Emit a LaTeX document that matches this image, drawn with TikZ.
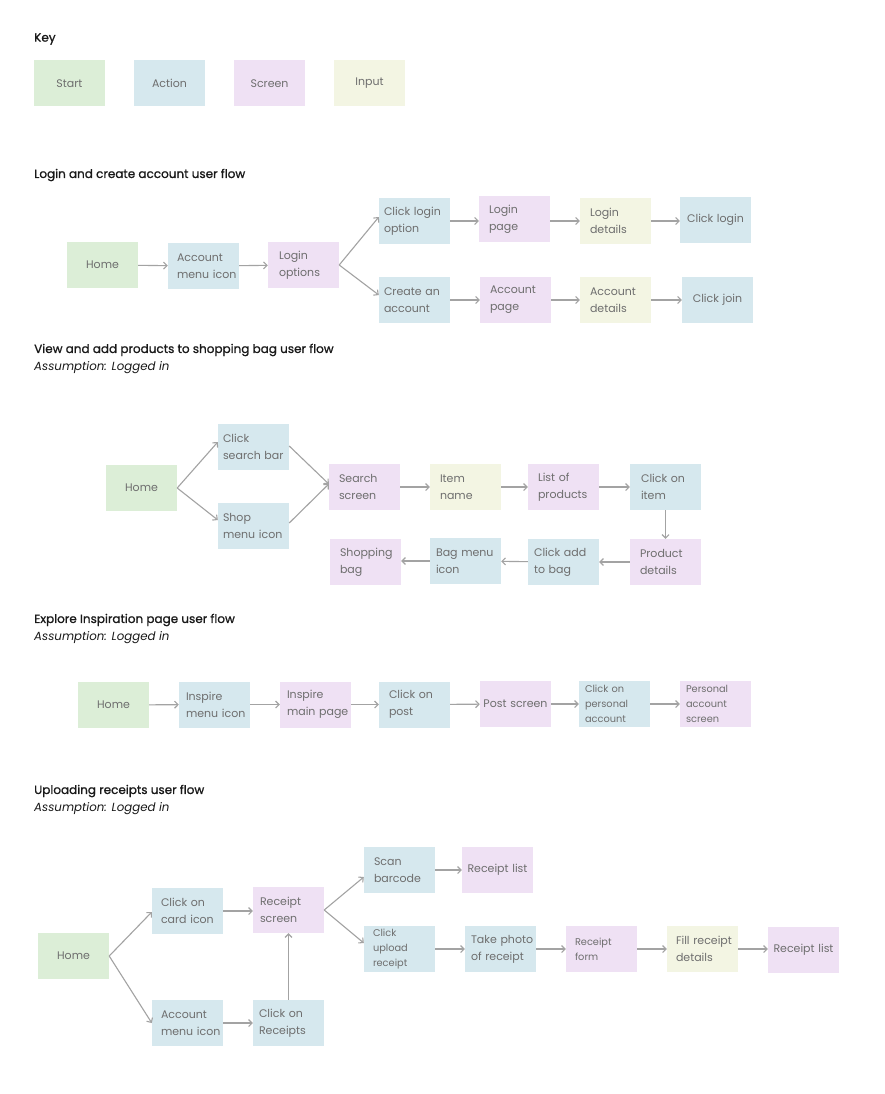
\documentclass[tikz,border=0pt]{standalone}
\usepackage{fontspec}
\setmainfont{Poppins}
\newfontfamily\headfont[FakeBold=1]{Poppins}
\usetikzlibrary{arrows.meta, positioning}
\definecolor{startgreen}{HTML}{DCEED7}
\definecolor{actionblue}{HTML}{D6E8EE}
\definecolor{screenpurple}{HTML}{EFE1F4}
\definecolor{inputyellow}{HTML}{F3F5E3}
\definecolor{labelgray}{HTML}{6E6E6E}
\definecolor{linegray}{HTML}{A3A3A3}

\begin{document}
\begin{tikzpicture}[x=1pt, y=-1pt,
    box/.style={rectangle, minimum width=71pt, minimum height=46pt,
        text width=71pt, inner xsep=0pt, inner ysep=0pt, align=left,
        text=labelgray, font=\fontsize{11}{17}\selectfont,
        execute at begin node={\leftskip=10pt}},
    textinset/.style={execute at begin node={\leftskip=#1pt}},
    oneline/.style={align=center,
        execute at begin node={\leftskip=0pt plus 1fil\rightskip=0pt plus 1fil}},
    startbox/.style={box, fill=startgreen},
    actionbox/.style={box, fill=actionblue},
    screenbox/.style={box, fill=screenpurple},
    inputbox/.style={box, fill=inputyellow},
    small/.style={font=\fontsize{9.8}{15}\selectfont},
    heading/.style={anchor=west, inner sep=0pt, text=black!90,
        font=\headfont\fontsize{12}{14}\selectfont},
    note/.style={anchor=west, inner sep=0pt, text=black!90,
        font=\itshape\fontsize{11.8}{14}\selectfont},
    flow/.style={draw=linegray, line width=1.1pt,
        -{Straight Barb[length=3.5pt, width=7pt]}}]

    \useasboundingbox[fill=white] (0,0) rectangle (884,1094);

    % key
    \node[heading] (keytitle) at (34,39) {Key};
    \node[startbox, oneline]  (keystart)  at (69.5,83.5)  {Start};
    \node[actionbox, oneline] (keyaction) at (169.5,83.5) {Action};
    \node[screenbox, oneline] (keyscreen) at (269.5,83.5) {Screen};
    \node[inputbox, oneline]  (keyinput)  at (369.5,83.5) {Input};

    % login and create account
    \node[heading] (t1) at (34,175) {Login and create account user flow};
    \node[startbox, oneline] (a-home) at (102.5,265) {Home};
    \node[actionbox, textinset=9]  (a-acc)    at (203.5,266) {Account\\menu icon};
    \node[screenbox, textinset=11] (a-opt)    at (303.5,265) {Login\\options};
    \node[actionbox, textinset=5]  (a-clogin) at (414.5,221) {Click login\\option};
    \node[actionbox, textinset=5]  (a-create) at (414.5,300) {Create an\\account};
    \node[screenbox] (a-lpage) at (514.5,219) {Login\\page};
    \node[inputbox]  (a-ldet)  at (615.5,221) {Login\\details};
    \node[actionbox, oneline] (a-login) at (715.5,220) {Click login};
    \node[screenbox] (a-apage) at (515.5,300) {Account\\page};
    \node[inputbox]  (a-adet)  at (615.5,300) {Account\\details};
    \node[actionbox, oneline] (a-join) at (717.5,300) {Click join};

    \draw[flow] (a-home) -- (a-acc);
    \draw[flow] (a-acc) -- (a-opt);
    \draw[flow] (a-opt.east) -- ([yshift=4pt]a-clogin.west);
    \draw[flow] (a-opt.east) -- ([yshift=5pt]a-create.west);
    \draw[flow] (a-clogin) -- (a-lpage.west |- a-clogin);
    \draw[flow] (a-lpage.east |- a-ldet) -- (a-ldet);
    \draw[flow] (a-ldet) -- (a-login.west |- a-ldet);
    \draw[flow] (a-create) -- (a-apage);
    \draw[flow] (a-apage) -- (a-adet);
    \draw[flow] (a-adet) -- (a-join);

    % shopping bag
    \node[heading] (t2) at (34,350) {View and add products to shopping bag user flow};
    \node[note] (n2) at (34,368) {Assumption: Logged in};
    \node[startbox, oneline] (b-home) at (141.5,488) {Home};
    \node[actionbox, textinset=5] (b-search) at (253.5,447) {Click\\search bar};
    \node[actionbox, textinset=5] (b-shop)   at (253.5,526) {Shop\\menu icon};
    \node[screenbox] (b-sscreen) at (364.5,487) {Search\\screen};
    \node[inputbox]  (b-item)    at (465.5,487) {Item\\name};
    \node[screenbox] (b-list)    at (563.5,487) {List of\\products};
    \node[actionbox, textinset=11] (b-click) at (665.5,487) {Click on\\item};
    \node[screenbox] (b-detail)  at (665.5,562) {Product\\details};
    \node[actionbox, textinset=6] (b-add)     at (563.5,562) {Click add\\to bag};
    \node[actionbox, textinset=6] (b-bagicon) at (465.5,561) {Bag menu\\icon};
    \node[screenbox] (b-bag)     at (365.5,562) {Shopping\\bag};

    \draw[flow] (b-home.east) -- ([yshift=5pt]b-search.west);
    \draw[flow] (b-home.east) -- ([yshift=6pt]b-shop.west);
    \draw[flow] ([yshift=1pt]b-search.east) -- ([yshift=3pt]b-sscreen.west);
    \draw[flow] ([yshift=3pt]b-shop.east) -- ([yshift=3pt]b-sscreen.west);
    \draw[flow] (b-sscreen) -- (b-item);
    \draw[flow] (b-item) -- (b-list);
    \draw[flow] (b-list) -- (b-click);
    \draw[flow] (b-click) -- (b-detail);
    \draw[flow] (b-detail) -- (b-add);
    \draw[flow] (b-add) -- (b-bagicon);
    \draw[flow] (b-bagicon) -- (b-bag.east |- b-bagicon);

    % inspiration page
    \node[heading] (t3) at (34,620) {Explore Inspiration page user flow};
    \node[note] (n3) at (34,638) {Assumption: Logged in};
    \node[startbox, oneline] (c-home) at (113.5,705) {Home};
    \node[actionbox, textinset=7] (c-inspire) at (214.5,704.5) {Inspire\\menu icon};
    \node[screenbox, textinset=7] (c-main)    at (315.5,704.5) {Inspire\\main page};
    \node[actionbox] (c-post) at (414.5,704.5) {Click on\\post};
    \node[screenbox, oneline] (c-pscreen) at (515.5,704) {Post screen};
    \node[actionbox, small, textinset=6] (c-personal) at (614.5,704) {Click on\\personal\\account};
    \node[screenbox, small, textinset=6] (c-account)  at (715.5,704) {Personal\\account\\screen};

    \draw[flow] (c-home) -- (c-inspire);
    \draw[flow] (c-inspire) -- (c-main);
    \draw[flow] (c-main) -- (c-post);
    \draw[flow] (c-post) -- (c-pscreen);
    \draw[flow] (c-pscreen) -- (c-personal);
    \draw[flow] (c-personal) -- (c-account);

    % uploading receipts
    \node[heading] (t4) at (34,791) {Uploading receipts user flow};
    \node[note] (n4) at (34,809) {Assumption: Logged in};
    \node[startbox, oneline] (d-home) at (73.5,956) {Home};
    \node[actionbox, textinset=9] (d-card)     at (187.5,911) {Click on\\card icon};
    \node[actionbox, textinset=9] (d-acc)      at (187.5,1023) {Account\\menu icon};
    \node[screenbox, textinset=7] (d-rscreen)  at (288.5,910) {Receipt\\screen};
    \node[actionbox, textinset=6] (d-creceipt) at (288.5,1023) {Click on\\Receipts};
    \node[actionbox] (d-scan) at (399.5,870) {Scan\\barcode};
    \node[actionbox, small, textinset=9] (d-upload) at (399.5,949) {Click\\upload\\receipt};
    \node[screenbox, oneline] (d-list1) at (497.5,870) {Receipt list};
    \node[actionbox, textinset=6] (d-photo) at (500.5,949) {Take photo\\of receipt};
    \node[screenbox, small, textinset=9] (d-form) at (601.5,949) {Receipt\\form};
    \node[inputbox, textinset=9] (d-fill) at (702.5,949) {Fill receipt\\details};
    \node[screenbox, oneline] (d-list2) at (803.5,950) {Receipt list};

    \draw[flow] (d-home.east) -- ([yshift=-1pt]d-card.west);
    \draw[flow] (d-home.east) -- (d-acc.west);
    \draw[flow] (d-card) -- (d-rscreen.west |- d-card);
    \draw[flow] (d-acc) -- (d-creceipt);
    \draw[flow] (d-creceipt) -- (d-rscreen);
    \draw[flow] (d-rscreen.east) -- ([yshift=-7pt]d-scan.west);
    \draw[flow] (d-rscreen.east) -- ([yshift=6pt]d-upload.west);
    \draw[flow] (d-scan) -- (d-list1);
    \draw[flow] (d-upload) -- (d-photo);
    \draw[flow] (d-photo) -- (d-form);
    \draw[flow] (d-form) -- (d-fill);
    \draw[flow] (d-fill) -- (d-list2.west |- d-fill);

\end{tikzpicture}
\end{document}
